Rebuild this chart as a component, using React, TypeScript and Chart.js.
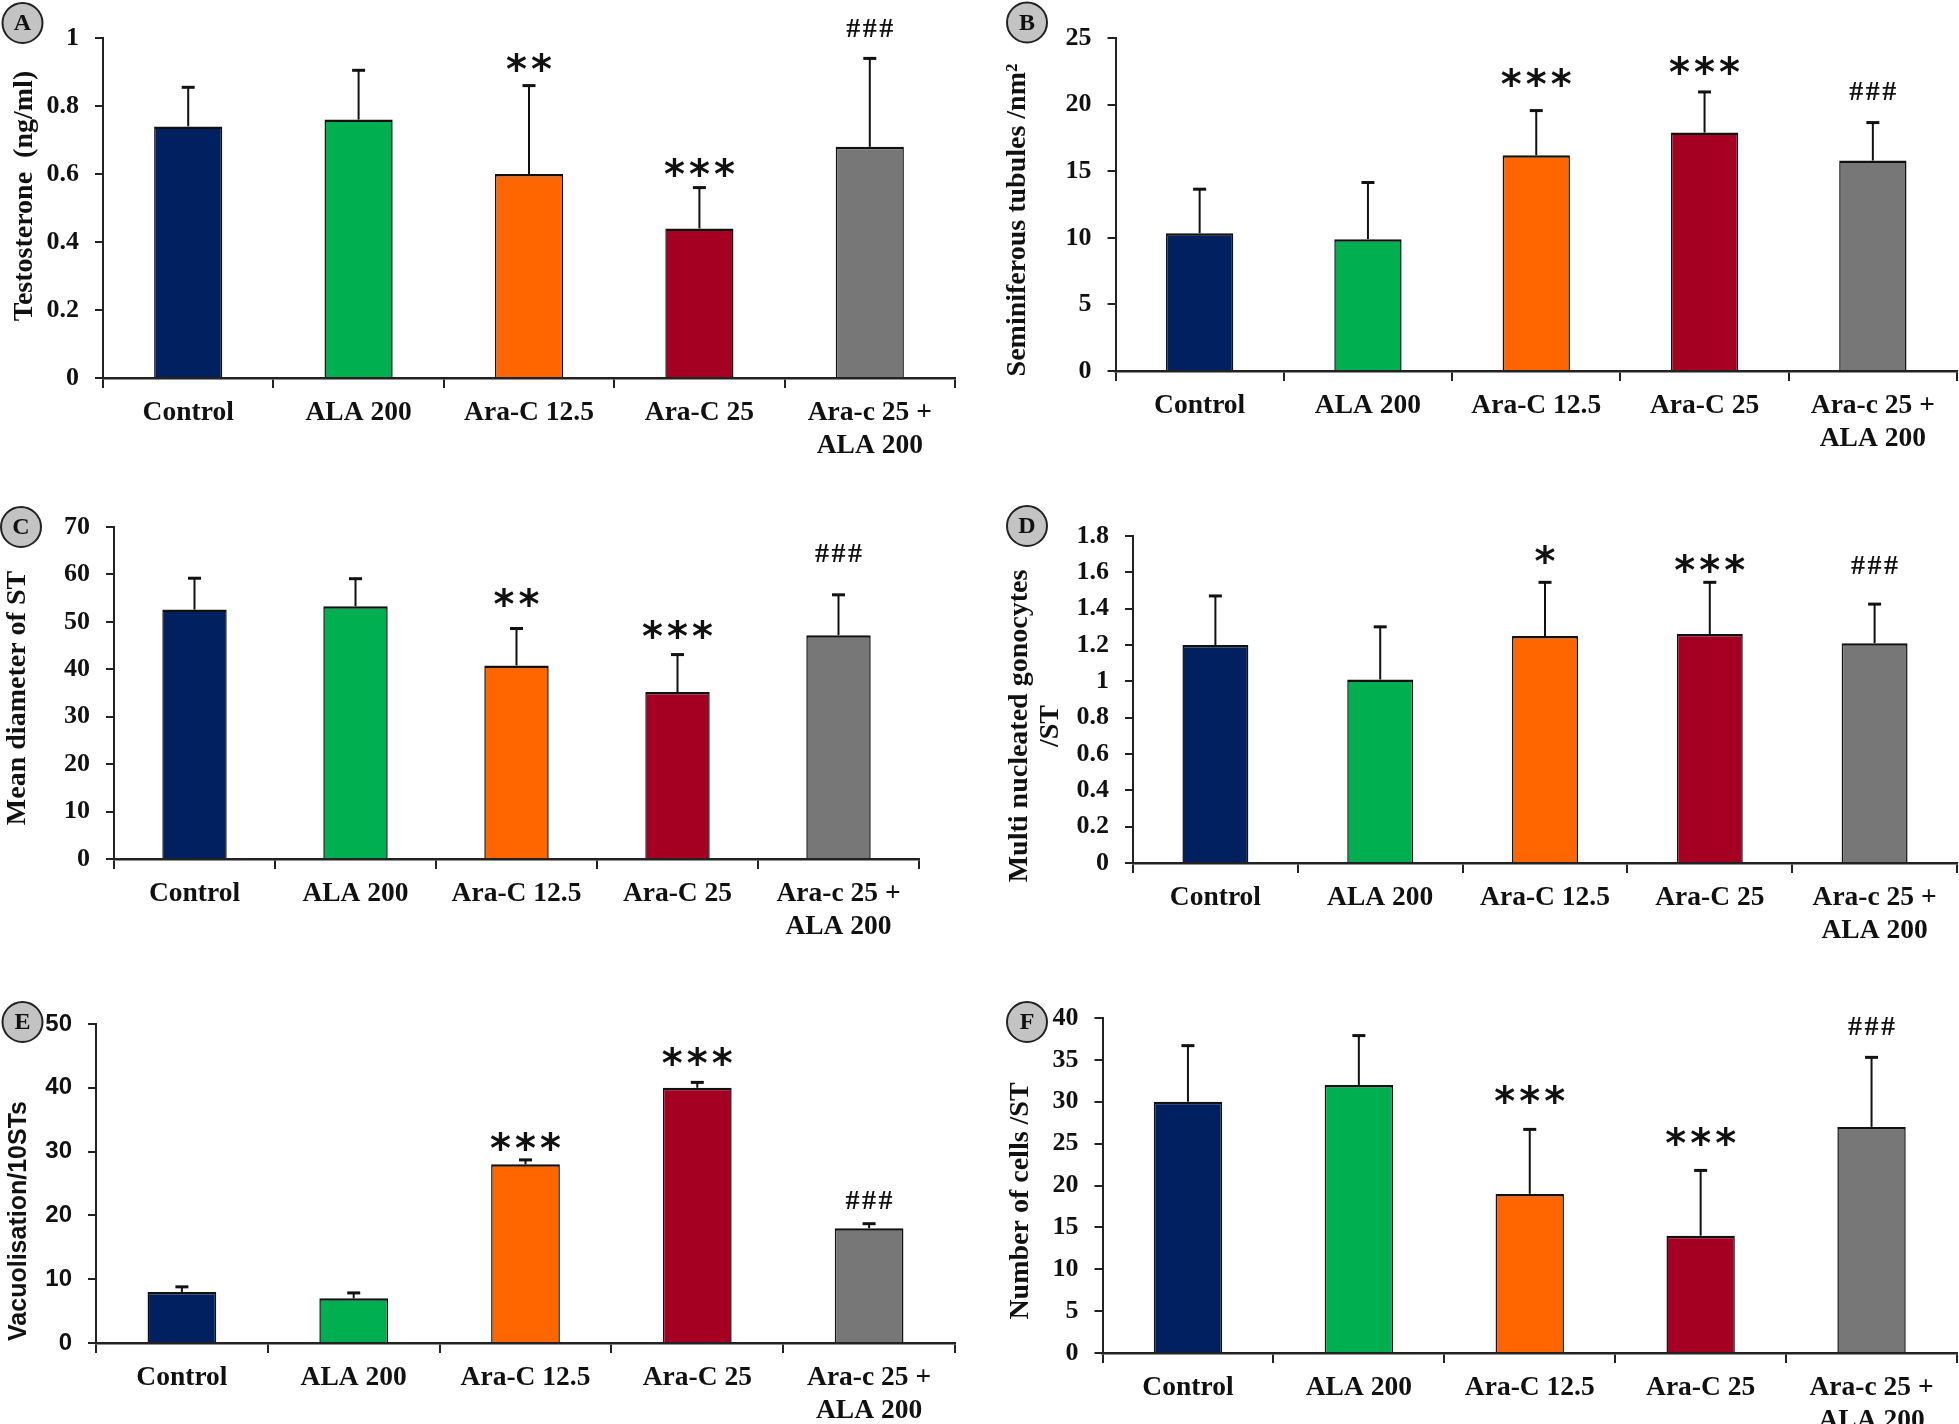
import React, { useEffect, useRef } from "react";
import { Chart, registerables } from "chart.js";

Chart.register(...registerables);

const SERIF = "'Liberation Serif', 'Times New Roman', serif";
const SANS = "'Liberation Sans', Arial, sans-serif";

// ---------- data ----------
const categories: (string | string[])[] = ["Control", "ALA 200", "Ara-C 12.5", "Ara-C 25", ["Ara-c 25 +", "ALA 200"]];
const barColors = ["#002060", "#00b050", "#ff6600", "#a50021", "#777777"];

// A: Testosterone (ng/ml)
const testosteroneMean = [0.74, 0.76, 0.6, 0.44, 0.68];
const testosteroneSD = [0.115, 0.145, 0.26, 0.12, 0.26];
const testosteroneMarks = ["", "", "**", "***", "###"];
const testosteroneMarkY = [null, null, 0.93, 0.62, 1.03];

// B: Seminiferous tubules /nm2
const tubulesMean = [10.35, 9.9, 16.2, 17.9, 15.8];
const tubulesSD = [3.3, 4.25, 3.35, 3.05, 2.85];
const tubulesMarks = ["", "", "***", "***", "###"];
const tubulesMarkY = [null, null, 22.1, 23.0, 21.0];

// C: Mean diameter of ST
const diameterMean = [52.6, 53.3, 40.8, 35.2, 47.2];
const diameterSD = [6.6, 5.8, 7.8, 7.9, 8.5];
const diameterMarks = ["", "", "**", "***", "###"];
const diameterMarkY = [null, null, 55.2, 48.5, 64.5];

// D: Multi nucleated gonocytes /ST
const gonocytesMean = [1.2, 1.01, 1.25, 1.26, 1.21];
const gonocytesSD = [0.27, 0.29, 0.295, 0.285, 0.215];
const gonocytesMarks = ["", "", "*", "***", "###"];
const gonocytesMarkY = [null, null, 1.7, 1.65, 1.64];

// E: Vacuolisation/10STs
const vacuoleMean = [8, 7, 28, 40, 18];
const vacuoleSD = [0.8, 0.85, 0.7, 0.85, 0.7];
const vacuoleMarks = ["", "", "***", "***", "###"];
const vacuoleMarkY = [null, null, 31.6, 45.0, 22.4];

// F: Number of cells /ST
const cellsMean = [30, 32, 19, 14, 27];
const cellsSD = [6.7, 5.9, 7.7, 7.8, 8.3];
const cellsMarks = ["", "", "***", "***", "###"];
const cellsMarkY = [null, null, 30.9, 25.9, 39.0];

// ---------- panel layout ----------
type Panel = {
  letter: string;
  x: number; y: number; w: number; h: number;
  area: { left: number; top: number; right: number; bottom: number };
  circle: [number, number];
  yMax: number; yStep: number;
  mean: number[]; sd: number[]; marks: string[]; markY: (number | null)[];
  title: string[]; titleX: number[]; titleY: number;
  sans: boolean;
};

const panels: Panel[] = [
  {
    letter: "A", x: 0, y: 0, w: 980, h: 470,
    area: { left: 103, top: 38, right: 955, bottom: 378 }, circle: [22.5, 23],
    yMax: 1, yStep: 0.2,
    mean: testosteroneMean, sd: testosteroneSD, marks: testosteroneMarks, markY: testosteroneMarkY,
    title: ["Testosterone  (ng/ml)"], titleX: [25], titleY: 196, sans: false,
  },
  {
    letter: "B", x: 980, y: 0, w: 979, h: 470,
    area: { left: 135.5, top: 38, right: 977, bottom: 371 }, circle: [47, 22.5],
    yMax: 25, yStep: 5,
    mean: tubulesMean, sd: tubulesSD, marks: tubulesMarks, markY: tubulesMarkY,
    title: ["Seminiferous tubules /nm\u00B2"], titleX: [38], titleY: 220, sans: false,
  },
  {
    letter: "C", x: 0, y: 470, w: 980, h: 490,
    area: { left: 114, top: 57, right: 919, bottom: 389 }, circle: [21, 57],
    yMax: 70, yStep: 10,
    mean: diameterMean, sd: diameterSD, marks: diameterMarks, markY: diameterMarkY,
    title: ["Mean diameter of ST"], titleX: [18], titleY: 228, sans: false,
  },
  {
    letter: "D", x: 980, y: 470, w: 979, h: 490,
    area: { left: 153, top: 66, right: 977, bottom: 393 }, circle: [47, 56],
    yMax: 1.8, yStep: 0.2,
    mean: gonocytesMean, sd: gonocytesSD, marks: gonocytesMarks, markY: gonocytesMarkY,
    title: ["Multi nucleated gonocytes", "/ST"], titleX: [40, 71], titleY: 256, sans: false,
  },
  {
    letter: "E", x: 0, y: 960, w: 980, h: 464,
    area: { left: 96, top: 64, right: 955, bottom: 383 }, circle: [22.5, 62],
    yMax: 50, yStep: 10,
    mean: vacuoleMean, sd: vacuoleSD, marks: vacuoleMarks, markY: vacuoleMarkY,
    title: ["Vacuolisation/10STs"], titleX: [19], titleY: 261, sans: true,
  },
  {
    letter: "F", x: 980, y: 960, w: 979, h: 464,
    area: { left: 122.5, top: 58, right: 977, bottom: 393 }, circle: [47, 62],
    yMax: 40, yStep: 5,
    mean: cellsMean, sd: cellsSD, marks: cellsMarks, markY: cellsMarkY,
    title: ["Number of cells /ST"], titleX: [41], titleY: 241, sans: false,
  },
];

const INK = "#111111";
const AXIS = "#222222";

function decorPlugin(p: Panel) {
  return {
    id: "decor" + p.letter,
    afterDatasetsDraw(chart: any) {
      const ctx = chart.ctx as CanvasRenderingContext2D;
      const ys = chart.scales.y;
      const meta = chart.getDatasetMeta(0);
      ctx.save();
      ctx.strokeStyle = INK;
      p.mean.forEach((m, i) => {
        const x = meta.data[i].x;
        const y0 = ys.getPixelForValue(m);
        const y1 = ys.getPixelForValue(m + p.sd[i]);
        ctx.lineWidth = 2;
        ctx.beginPath();
        ctx.moveTo(x, y0);
        ctx.lineTo(x, y1);
        ctx.stroke();
        ctx.lineWidth = 3;
        ctx.beginPath();
        ctx.moveTo(x - 6.5, y1);
        ctx.lineTo(x + 6.5, y1);
        ctx.stroke();
      });
      ctx.restore();
    },
    afterDraw(chart: any) {
      const ctx = chart.ctx as CanvasRenderingContext2D;
      const ys = chart.scales.y;
      const meta = chart.getDatasetMeta(0);
      ctx.save();
      // significance marks
      p.marks.forEach((mk, i) => {
        const v = p.markY[i];
        if (!mk || v === null) return;
        const isHash = mk[0] === "#";
        ctx.font = isHash ? `bold 28px ${SERIF}` : `bold 40px 'DejaVu Sans', sans-serif`;
        const pitch = isHash ? 16.5 : 25;
        ctx.fillStyle = INK;
        ctx.textAlign = "center";
        ctx.textBaseline = "alphabetic";
        const cx = meta.data[i].x;
        const cy = ys.getPixelForValue(v);
        const mt = ctx.measureText(mk[0]);
        const base = cy + (mt.actualBoundingBoxAscent - mt.actualBoundingBoxDescent) / 2;
        const n = mk.length;
        for (let k = 0; k < n; k++) {
          ctx.fillText(mk[k], cx + (k - (n - 1) / 2) * pitch, base);
        }
      });
      // y axis title
      ctx.fillStyle = INK;
      ctx.font = p.sans ? `bold 25px ${SANS}` : `bold 28px ${SERIF}`;
      ctx.textAlign = "center";
      ctx.textBaseline = "middle";
      p.title.forEach((line, li) => {
        ctx.save();
        ctx.translate(p.titleX[li], p.titleY);
        ctx.rotate(-Math.PI / 2);
        ctx.fillText(line, 0, 0);
        ctx.restore();
      });
      // panel letter circle
      const [cx, cy] = p.circle;
      ctx.beginPath();
      ctx.arc(cx, cy, 20, 0, Math.PI * 2);
      ctx.fillStyle = "#c3c3c3";
      ctx.fill();
      ctx.lineWidth = 2;
      ctx.strokeStyle = AXIS;
      ctx.stroke();
      ctx.fillStyle = INK;
      ctx.font = `bold 24px ${SERIF}`;
      ctx.textAlign = "center";
      ctx.textBaseline = "middle";
      ctx.fillText(p.letter, cx, cy + 1);
      ctx.restore();
    },
  };
}

function PanelChart({ p }: { p: Panel }) {
  const ref = useRef<HTMLCanvasElement>(null);
  useEffect(() => {
    const chart = new Chart(ref.current as HTMLCanvasElement, {
      type: "bar",
      data: {
        labels: categories as any,
        datasets: [
          {
            data: p.mean,
            backgroundColor: barColors,
            borderColor: INK,
            borderWidth: { top: 2.5, left: 1.5, right: 1.5, bottom: 0 } as any,
            borderSkipped: "start",
            barPercentage: 0.4,
            categoryPercentage: 1,
          },
        ],
      },
      options: {
        responsive: true,
        maintainAspectRatio: false,
        animation: false,
        layout: { padding: { left: 0, top: p.area.top, right: p.w - p.area.right, bottom: 0 } },
        plugins: {
          legend: { display: false },
          tooltip: { enabled: false },
          title: { display: false },
        },
        scales: {
          x: {
            z: 1,
            afterFit: (s: any) => {
              s.height = p.h - p.area.bottom;
            },
            grid: {
              display: true,
              offset: true,
              drawOnChartArea: false,
              drawTicks: true,
              tickLength: 10,
              color: AXIS,
              lineWidth: 2,
            },
            border: { display: true, color: AXIS, width: 2.5 },
            ticks: {
              color: INK,
              font: { family: SERIF, size: 27.5, weight: "bold", lineHeight: 1.2 },
              padding: 8,
              maxRotation: 0,
              minRotation: 0,
              autoSkip: false,
            },
          },
          y: {
            min: 0,
            max: p.yMax,
            afterFit: (s: any) => {
              s.width = p.area.left;
            },
            grid: {
              display: true,
              drawOnChartArea: false,
              drawTicks: true,
              tickLength: 8,
              color: AXIS,
              lineWidth: 2,
            },
            border: { display: true, color: AXIS, width: 2 },
            ticks: {
              stepSize: p.yStep,
              color: INK,
              callback: (v: any) => String(Math.round(Number(v) * 100) / 100),
              font: p.sans
                ? { family: SANS, size: 24, weight: "bold" }
                : { family: SERIF, size: 26, weight: "bold" },
              padding: 16,
            },
          },
        },
      } as any,
      plugins: [decorPlugin(p)],
    });
    return () => chart.destroy();
  }, [p]);
  return (
    <div style={{ position: "absolute", left: p.x, top: p.y, width: p.w, height: p.h }}>
      <canvas ref={ref} />
    </div>
  );
}

export default function App() {
  return (
    <div
      style={{
        position: "absolute",
        left: 0,
        top: 0,
        width: 1959,
        height: 1424,
        background: "#ffffff",
        overflow: "hidden",
      }}
    >
      {panels.map((p) => (
        <PanelChart key={p.letter} p={p} />
      ))}
    </div>
  );
}
